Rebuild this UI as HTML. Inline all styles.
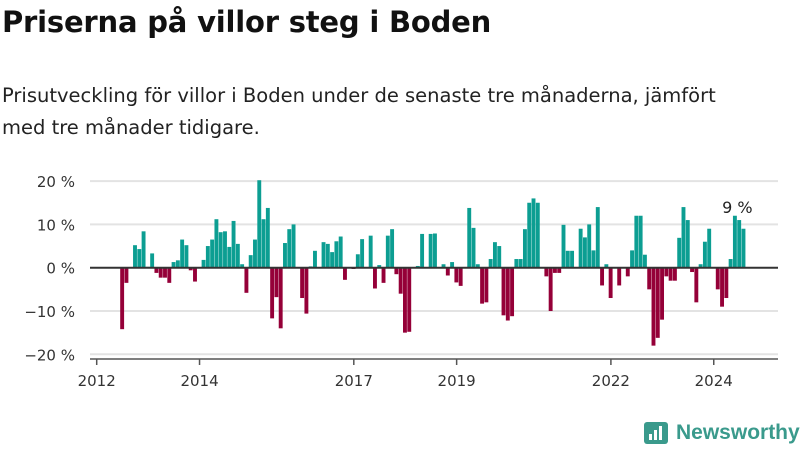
<!DOCTYPE html>
<html><head><meta charset="utf-8">
<style>
body{margin:0;width:800px;height:450px;background:#fff;font-family:"Liberation Sans","DejaVu Sans",sans-serif;color:#111;overflow:hidden;position:relative}
h1{position:absolute;left:2px;top:5px;margin:0;font-family:"DejaVu Sans",sans-serif;font-size:29px;font-weight:bold;letter-spacing:-0.2px}
p{position:absolute;left:2px;top:80px;margin:0;font-family:"DejaVu Sans",sans-serif;font-size:19.5px;line-height:32px;width:795px;color:#222}
svg{position:absolute;left:0;top:0}
</style></head><body>
<h1>Priserna på villor steg i Boden</h1>
<p>Prisutveckling för villor i Boden under de senaste tre månaderna, jämfört<br>med tre månader tidigare.</p>
<svg id="chart" width="800" height="450"></svg>
<div style="position:absolute;left:644px;top:420px;display:flex;align-items:center">
<svg width="26" height="26" style="position:static"><rect x="0" y="2" width="24" height="22" rx="3" fill="#3a9a8c"/><rect x="5" y="14" width="3" height="6" fill="#fff"/><rect x="10" y="10" width="3" height="10" fill="#fff"/><rect x="15" y="6" width="3" height="14" fill="#fff"/></svg>
<span style="font-size:21px;font-weight:bold;color:#3a9a8c;margin-left:6px">Newsworthy</span></div>
<script>
const startMonth = 5; // months since Jan 2012 for first bar
const values = [-14.2,-3.5,0,5.2,4.3,8.4,0.2,3.3,-1.2,-2.3,-2.3,-3.5,1.3,1.7,6.5,5.2,-0.6,-3.2,0,1.8,5,6.5,11.2,8.2,8.4,4.8,10.8,5.5,0.8,-5.8,2.9,6.5,20.2,11.2,13.8,-11.7,-6.8,-14,5.7,8.9,10,0,-7,-10.6,0.3,3.9,0,5.9,5.5,3.6,6.1,7.2,-2.8,0,-0.3,3.1,6.6,0,7.4,-4.8,0.6,-3.5,7.4,8.9,-1.5,-6,-15,-14.8,0,0.4,7.8,0,7.8,7.9,0,0.8,-1.8,1.3,-3.4,-4.2,0,13.8,9.2,0.8,-8.3,-8,2,5.9,5,-11,-12.2,-11.2,2,2,8.9,15,16,15,0,-2,-10,-1.2,-1.2,9.9,3.9,3.9,0,9,7,10,4,14,-4.1,0.8,-7,0,-4.1,0,-2,4,12,12,3,-5,-18,-16.2,-12,-2,-3,-3,6.9,14,11,-1,-8,0.8,6,9,0,-5,-9,-7,2,12,11,9];
const yTicks = [20,10,0,-10,-20];
const yTickLabels = ["20 %","10 %","0 %","−10 %","−20 %"];
const xTickYears = [2012,2014,2017,2019,2022,2024];
const lastLabel = "9 %";
const NS="http://www.w3.org/2000/svg";
const svg=document.getElementById('chart');
const x0=96.7, mw=4.285, yZero=267.7, pxPerPct=4.33;
const xm=m=>x0+m*mw;
const y=v=>yZero-v*pxPerPct;
function mk(t,a){const e=document.createElementNS(NS,t);for(const k in a)e.setAttribute(k,a[k]);svg.appendChild(e);return e;}
yTicks.forEach((t,i)=>{
  if(t!==0){const g=mk('line',{x1:90,x2:778,y1:y(t),y2:y(t),stroke:'#e3e3e3','stroke-width':2});
  
  }
  const l=mk('text',{x:75,y:y(t)+6,'text-anchor':'end','font-size':15,fill:'#333','font-family':'DejaVu Sans, sans-serif'});
  l.textContent=yTickLabels[i];
  
  
});
values.forEach((v,i)=>{
  const cx=xm(startMonth+i+0.95);
  const r=mk('rect',{x:cx-2,width:3.9,y:Math.min(y(v),yZero),height:Math.abs(y(v)-yZero),fill:v>=0?'#0c9e92':'#950038'});
  
  
});
const z=mk('line',{x1:90,x2:778,y1:yZero,y2:yZero,stroke:'#333','stroke-width':2});


const ax=mk('line',{x1:90,x2:778,y1:359,y2:359,stroke:'#555','stroke-width':1.5});


xTickYears.forEach(yr=>{
  const xx=xm((yr-2012)*12);
  const t=mk('line',{x1:xx,x2:xx,y1:359,y2:365,stroke:'#555','stroke-width':1.5});
  
  
  const l=mk('text',{x:xx,y:386,'text-anchor':'middle','font-size':15,fill:'#333','font-family':'DejaVu Sans, sans-serif'});
  l.textContent=yr;
  
  
});
const last=mk('text',{x:xm(startMonth+values.length-1.5),y:213,'text-anchor':'middle','font-size':16,fill:'#222','font-family':'DejaVu Sans, sans-serif'});
last.textContent=lastLabel;


</script>
</body></html>
